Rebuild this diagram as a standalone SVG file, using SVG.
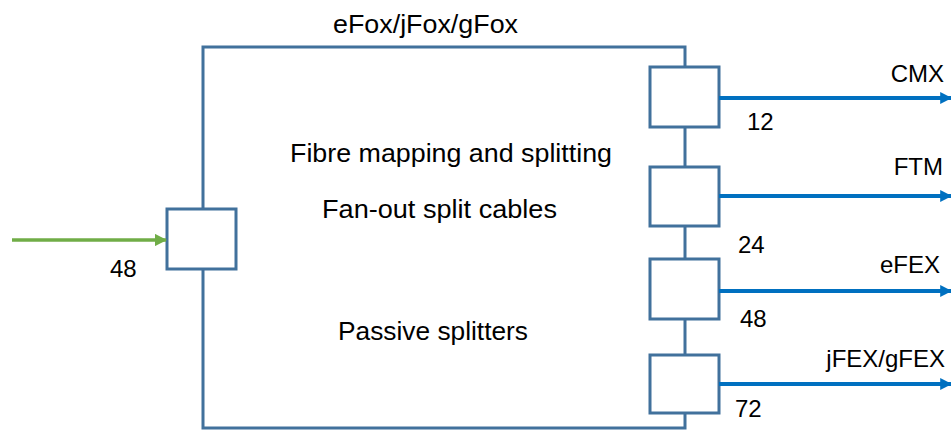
<svg xmlns="http://www.w3.org/2000/svg" width="951" height="430" viewBox="0 0 951 430">
<defs>
<style>
.box{fill:#fff;stroke:#41719C;stroke-width:3}
.frame{fill:none;stroke:#41719C;stroke-width:3}
.out{stroke:#0070C0;stroke-width:4;fill:none}
.in{stroke:#70AD47;stroke-width:3.5;fill:none}
text{font-family:"Liberation Sans",Arial,sans-serif;font-size:24px;fill:#000}
.m{font-size:25.5px}
.c{text-anchor:middle}
.r{text-anchor:end}
</style>
<marker id="ab" viewBox="0 0 10 10" refX="9" refY="5" markerWidth="3" markerHeight="3" orient="auto" markerUnits="strokeWidth"><path d="M0,0L10,5L0,10z" fill="#0070C0"/></marker>
<marker id="ag" viewBox="0 0 10 10" refX="9" refY="5" markerWidth="3.5" markerHeight="3.5" orient="auto" markerUnits="strokeWidth"><path d="M0,0L10,5L0,10z" fill="#70AD47"/></marker>
</defs>
<g id="main">
<rect class="frame" x="203" y="47" width="482" height="381"/>
<text class="m" x="333" y="33" textLength="185" lengthAdjust="spacingAndGlyphs">eFox/jFox/gFox</text>
<text class="m" x="290" y="162" textLength="322" lengthAdjust="spacingAndGlyphs">Fibre mapping and splitting</text>
<text class="m" x="322" y="218" textLength="235" lengthAdjust="spacingAndGlyphs">Fan-out split cables</text>
<text class="m" x="338" y="340" textLength="190" lengthAdjust="spacingAndGlyphs">Passive splitters</text>
</g>
<g id="input-port"><rect class="box" x="167" y="209" width="69" height="60"/></g>
<g id="port-cmx"><rect class="box" x="650" y="67" width="69" height="60"/></g>
<g id="port-ftm"><rect class="box" x="650" y="167" width="69" height="59"/></g>
<g id="port-efex"><rect class="box" x="650" y="259" width="69" height="60"/></g>
<g id="port-jfex"><rect class="box" x="650" y="355" width="69" height="58"/></g>
<g id="connectors">
<line class="in" x1="12" y1="240" x2="166" y2="240" marker-end="url(#ag)"/>
<line class="out" x1="719" y1="98" x2="951" y2="98" marker-end="url(#ab)"/>
<line class="out" x1="719" y1="196" x2="951" y2="196" marker-end="url(#ab)"/>
<line class="out" x1="719" y1="291" x2="951" y2="291" marker-end="url(#ab)"/>
<line class="out" x1="719" y1="384" x2="951" y2="384" marker-end="url(#ab)"/>
<text x="110" y="277">48</text>
<text class="r" x="944" y="82">CMX</text>
<text x="747" y="130">12</text>
<text class="r" x="943" y="175">FTM</text>
<text x="738" y="253">24</text>
<text class="r" x="940" y="273">eFEX</text>
<text x="740" y="327">48</text>
<text class="r" x="945" y="367">jFEX/gFEX</text>
<text x="735" y="417">72</text>
</g>
</svg>
